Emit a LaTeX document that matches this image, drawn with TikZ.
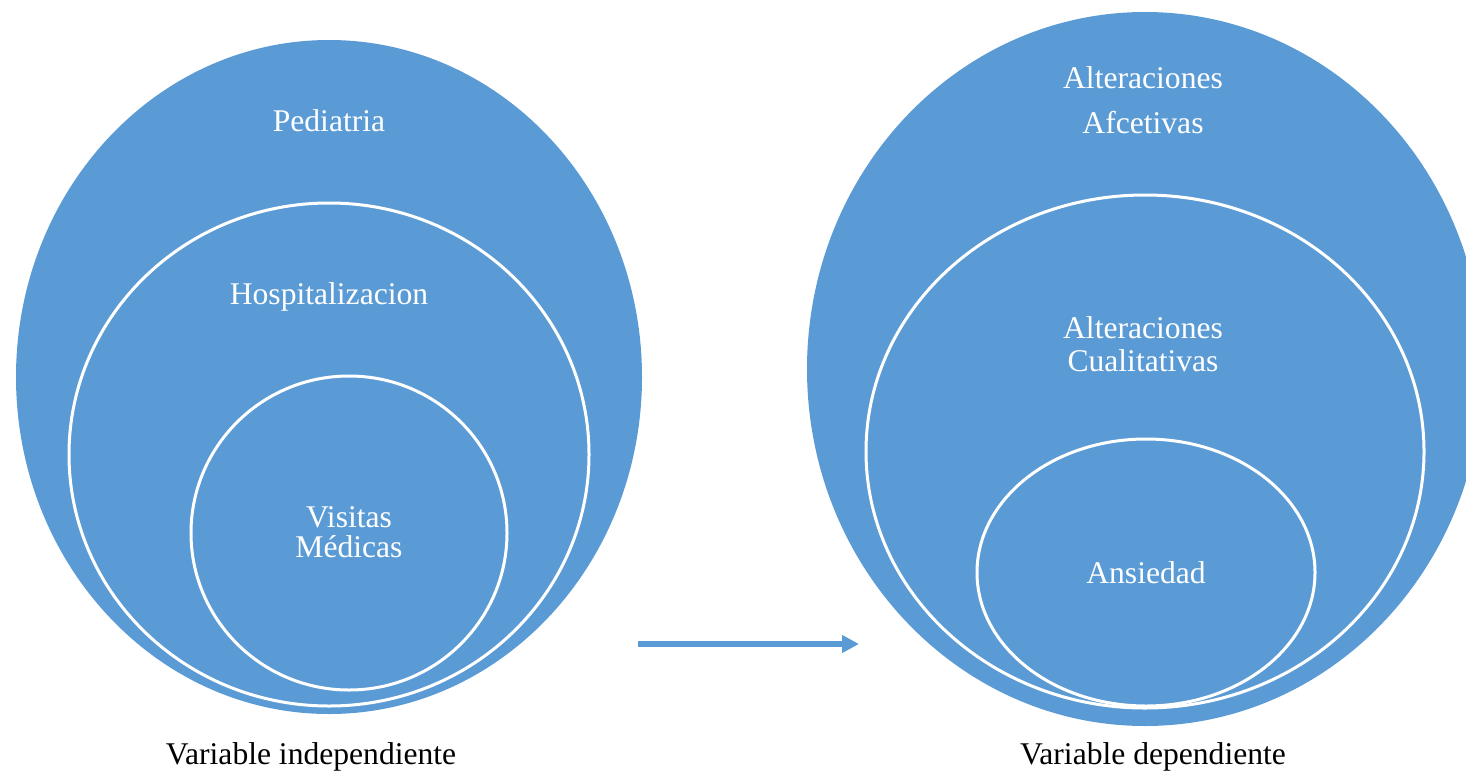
\documentclass[tikz,border=0pt]{standalone}
\usepackage{fontspec}
\setmainfont{Liberation Serif}
\usetikzlibrary{shapes.geometric,arrows.meta}
\definecolor{azul}{HTML}{5B9BD5}
\tikzset{
  grande/.style={ellipse,fill=azul,inner sep=0pt},
  anillo/.style={ellipse,fill=azul,draw=white,line width=1.5pt,inner sep=0pt},
  rotulo/.style={text=white,align=center,font=\fontsize{15.8}{15}\selectfont},
  pie/.style={text=black,font=\fontsize{15.8}{15}\selectfont}
}
\begin{document}
\begin{tikzpicture}[x=0.5pt,y=-0.5pt]
    \useasboundingbox (0,0) rectangle (1466,776);
    \clip (0,0) rectangle (1466,776);
    % variable independiente
    \node[grande,minimum width=313pt,minimum height=337pt] (pediatria) at (329,377) {};
    \node[anillo,minimum width=260pt,minimum height=251.5pt] (hospital) at (329,454.5) {};
    \node[anillo,minimum width=158pt,minimum height=157pt] (visitas) at (349,533) {};
    \node[rotulo] (tped) at (329,121) {Pediatria};
    \node[rotulo] (thosp) at (329,297) {Hospitalizacion};
    \node[rotulo] (tvis) at (349,532) {Visitas\\Médicas};
    % variable dependiente
    \node[grande,minimum width=338pt,minimum height=357pt] (afectivas) at (1145,369) {};
    \node[anillo,minimum width=279pt,minimum height=256.5pt] (cualitativas) at (1145,451.5) {};
    \node[anillo,minimum width=169pt,minimum height=133.5pt] (ansiedad) at (1146,572.5) {};
    \node[rotulo] (tafe) at (1143,100) {Alteraciones\\[7.5pt]Afcetivas};
    \node[rotulo] (tcua) at (1143,344) {Alteraciones\\[1.5pt]Cualitativas};
    \node[rotulo] (tans) at (1146,573) {Ansiedad};
    % flecha
    \coordinate (desde) at (638,644);
    \coordinate (hasta) at (859,644);
    \draw[azul,line width=3pt,-{Triangle[length=8.5pt,width=8.5pt]}] (desde) -- (hasta);
    \node[pie] (indep) at (311,757) {Variable independiente};
    \node[pie] (dep) at (1153,757) {Variable dependiente};
\end{tikzpicture}
\end{document}
